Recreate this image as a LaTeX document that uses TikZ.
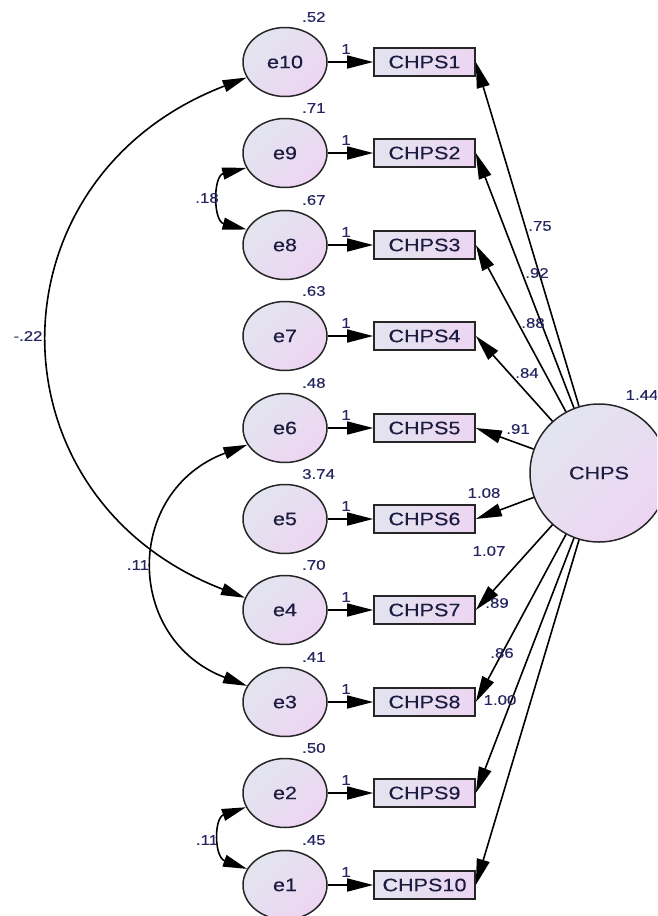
\documentclass[tikz,border=0pt]{standalone}
\usepackage{fontspec}
\setmainfont{Liberation Sans}[FakeStretch=1.2,FakeBold=0.3]
\usetikzlibrary{arrows.meta,shapes.geometric}

\definecolor{txt}{HTML}{1C1C40}
\definecolor{lbl}{HTML}{262660}
\definecolor{fillA}{HTML}{E2E5EF}
\definecolor{fillB}{HTML}{EDD5F2}
\definecolor{edge}{HTML}{262626}

\begin{document}
\begin{tikzpicture}[x=1pt,y=-1pt,
  errnode/.style={ellipse, draw=edge, line width=1.5pt, minimum width=84pt,
    minimum height=69pt, inner sep=0pt, top color=fillA, bottom color=fillB,
    shading angle=45, text=txt, font=\fontsize{18}{20}\selectfont},
  obsbox/.style={rectangle, draw=edge, line width=1.6pt, minimum width=101pt,
    minimum height=28pt, inner sep=0pt, left color=fillA, right color=fillB,
    text=txt, font=\fontsize{18}{20}\selectfont},
  latnode/.style={circle, draw=edge, line width=1.5pt, minimum size=138pt,
    inner sep=0pt, top color=fillA, bottom color=fillB, shading angle=45,
    text=txt, font=\fontsize{18}{20}\selectfont},
  numlbl/.style={text=lbl, font=\fontsize{14}{16}\selectfont, inner sep=0pt},
  regarrow/.style={line width=1.6pt, draw=black,
    -{Triangle[length=26pt,width=13pt]}},
  covarrow/.style={line width=1.6pt, draw=black,
    {Triangle[length=24pt,width=12pt]}-{Triangle[length=24pt,width=12pt]}},
]
\useasboundingbox (0,0) rectangle (657,916);
\clip (0,0) rectangle (657,916);

% error terms
\node[errnode] (e10) at (285,62)  {e10};
\node[errnode] (e9)  at (285,153) {e9};
\node[errnode] (e8)  at (285,245) {e8};
\node[errnode] (e7)  at (285,336) {e7};
\node[errnode] (e6)  at (285,428) {e6};
\node[errnode] (e5)  at (285,519) {e5};
\node[errnode] (e4)  at (285,610) {e4};
\node[errnode] (e3)  at (285,702) {e3};
\node[errnode] (e2)  at (285,793) {e2};
\node[errnode] (e1)  at (285,885) {e1};

% observed items
\node[obsbox] (v1)  at (424.5,62)  {CHPS1};
\node[obsbox] (v2)  at (424.5,153) {CHPS2};
\node[obsbox] (v3)  at (424.5,245) {CHPS3};
\node[obsbox] (v4)  at (424.5,336) {CHPS4};
\node[obsbox] (v5)  at (424.5,428) {CHPS5};
\node[obsbox] (v6)  at (424.5,519) {CHPS6};
\node[obsbox] (v7)  at (424.5,610) {CHPS7};
\node[obsbox] (v8)  at (424.5,702) {CHPS8};
\node[obsbox] (v9)  at (424.5,793) {CHPS9};
\node[obsbox] (v10) at (424.5,885) {CHPS10};

% latent factor
\node[latnode] (chps) at (599,473) {CHPS};
\node[numlbl] (varchps) at (642,395) {1.44};

% error -> item paths, fixed at 1
\foreach \e/\v in {e10/v1,e9/v2,e8/v3,e7/v4,e6/v5,e5/v6,e4/v7,e3/v8,e2/v9,e1/v10}
  \draw[regarrow] (\e) -- (\v);

\foreach \y [count=\k] in {62,153,245,336,428,519,610,702,793,885}
  \node[numlbl] (one\k) at (346,\y-13) {1};

% error variances
\node[numlbl, anchor=west] (var10) at (302,17)  {.52};
\node[numlbl, anchor=west] (var9)  at (302,108) {.71};
\node[numlbl, anchor=west] (var8)  at (302,200) {.67};
\node[numlbl, anchor=west] (var7)  at (302,291) {.63};
\node[numlbl, anchor=west] (var6)  at (302,383) {.48};
\node[numlbl, anchor=west] (var5)  at (302,474) {3.74};
\node[numlbl, anchor=west] (var4)  at (302,565) {.70};
\node[numlbl, anchor=west] (var3)  at (302,657) {.41};
\node[numlbl, anchor=west] (var2)  at (302,748) {.50};
\node[numlbl, anchor=west] (var1)  at (302,840) {.45};

% factor loadings
\foreach \k in {1,...,10}
  \draw[regarrow] (chps) -- (v\k.east);

\node[numlbl] (ld1)  at (540,226) {.75};
\node[numlbl] (ld2)  at (537,273) {.92};
\node[numlbl] (ld3)  at (533,323) {.88};
\node[numlbl] (ld4)  at (527,373) {.84};
\node[numlbl] (ld5)  at (518,429) {.91};
\node[numlbl] (ld6)  at (484,493) {1.08};
\node[numlbl] (ld7)  at (489,551) {1.07};
\node[numlbl] (ld8)  at (497,603) {.89};
\node[numlbl] (ld9)  at (502,653) {.86};
\node[numlbl] (ld10) at (500,700) {1.00};

% error covariances
\draw[covarrow] (e9.201) .. controls (213,176) and (213,221) .. (e8.158);
\draw[covarrow] (e10.202) .. controls (-15,178) and (-15,498) .. (e4.163);
\draw[covarrow] (e6.204) .. controls (124,491) and (124,639) .. (e3.157);
\draw[covarrow] (e2.200) .. controls (214,818) and (214,857) .. (e1.157);

\node[numlbl] (c98)  at (207,198) {.18};
\node[numlbl] (c104) at (28,336)  {-.22};
\node[numlbl] (c63)  at (138,565) {.11};
\node[numlbl] (c21)  at (207,840) {.11};
\end{tikzpicture}
\end{document}
